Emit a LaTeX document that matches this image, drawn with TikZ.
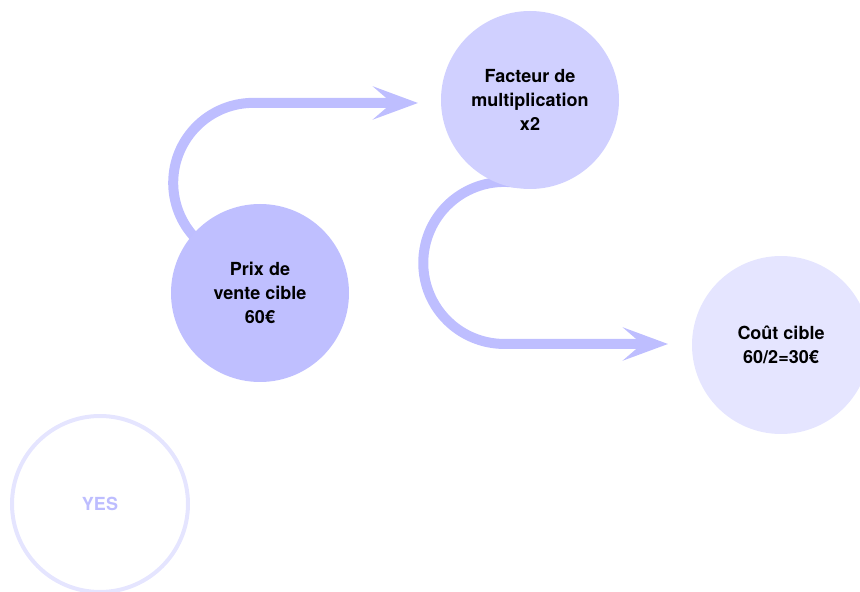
\documentclass[tikz,border=0pt]{standalone}
\usepackage{fontspec}
\setmainfont{TeX Gyre Heros}
\usetikzlibrary{arrows.meta}
\definecolor{flowc}{RGB}{190,190,255}
\definecolor{prixc}{RGB}{191,191,255}
\definecolor{factc}{RGB}{208,208,255}
\definecolor{coutc}{RGB}{229,229,255}
\definecolor{yesc}{RGB}{189,189,255}
\pgfdeclarelayer{back}
\pgfsetlayers{back,main}
\begin{document}
\begin{tikzpicture}[x=1pt,y=1pt,
	bubble/.style={circle,minimum size=178pt,inner sep=0pt,align=center,font=\fontsize{18}{24}\selectfont\bfseries},
	flow/.style={line width=10pt,draw=flowc,-{Stealth[length=45pt,width=33pt,inset=19pt]}}]
			\useasboundingbox (0,0) rectangle (860,592);
			\node [bubble,fill=prixc] (prix) at (260,299) {Prix de\\vente cible\\60€};
			\node [bubble,fill=factc] (facteur) at (530,492) {Facteur de\\multiplication\\x2};
			\node [bubble,fill=coutc] (cout) at (781,247) {Coût cible\\60/2=30€};
			\node [bubble,draw=coutc,line width=4pt,minimum size=176pt,text=yesc] (yes) at (100,88) {YES};
			\coordinate (tip1) at (418,489);
			\coordinate (tip2) at (668,248);
			\begin{pgfonlayer}{back}
			\draw [flow] ([shift={(140:76)}]prix.center) arc [start angle=230,end angle=90,radius=80] -- (tip1);
			\draw [flow] ([shift={(262:84)}]facteur.center) arc [start angle=80,end angle=270,radius=81] -- (tip2);
			\end{pgfonlayer}
	 	\end{tikzpicture}
\end{document}
